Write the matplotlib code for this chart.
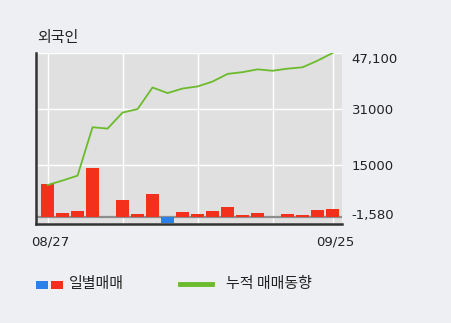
import matplotlib
matplotlib.use("Agg")
import matplotlib.pyplot as plt
import matplotlib.transforms as mtransforms
from matplotlib.patches import Rectangle
from matplotlib.lines import Line2D

plt.rcParams['font.family'] = ['Noto Sans CJK KR', 'DejaVu Sans']

# trading days 2019-08-27 .. 2019-09-25
dates = ['08/27', '08/28', '08/29', '08/30', '09/02', '09/03', '09/04', '09/05',
         '09/06', '09/09', '09/10', '09/11', '09/16', '09/17', '09/18', '09/19',
         '09/20', '09/23', '09/24', '09/25']
# daily net buying (bars)
daily = [9500, 1200, 1750, 14100, 0, 4900, 900, 6600, -1580, 1450,
         900, 1750, 2900, 600, 1200, 0, 900, 600, 2000, 2300]
# cumulative trend (line)
cumulative = [9200, 10500, 11900, 25800, 25400, 30000, 31000, 37200, 35600, 36900,
              37500, 38900, 41100, 41600, 42400, 42000, 42600, 43000, 44900, 47100]
ytick_vals = [47100, 31000, 15000, 0]
ytick_labels = ['47,100', '31000', '15000', '-1,580']

BG = '#eeeff3'
PLOT_BG = '#e0e0e0'
RED = '#f2301c'
BLUE = '#2b80ea'
GREEN = '#6cbb2c'

fig = plt.figure(figsize=(4.51, 3.23), dpi=100, facecolor=BG)
W, H = 451, 323
ax = fig.add_axes([36 / W, (H - 224) / H, (342 - 36) / W, (224 - 53) / H])
ax.set_facecolor(PLOT_BG)

x = list(range(len(dates)))
colors = [RED if v >= 0 else BLUE for v in daily]
ax.bar(x, daily, width=0.87, color=colors, zorder=3)
ax.axhline(0, color='#8e8e8e', lw=1.6, zorder=2)
ax.plot(x, cumulative, color=GREEN, lw=1.3, zorder=4)

ax.set_xlim(-0.77, len(dates) - 1 + 0.63)
ax.set_ylim(-1980, 47100)

# grid
grid_x = [0, 5, 10, 15, len(dates) - 1]
for gx in grid_x:
    ax.axvline(gx, color='white', lw=1, zorder=1)
for gy in ytick_vals[:3]:
    ax.axhline(gy, color='white', lw=1, zorder=1)

ax.set_xticks([0, len(dates) - 1])
ax.set_xticklabels([dates[0], dates[-1]])
ax.set_yticks(ytick_vals)
ax.set_yticklabels(ytick_labels)
ax.yaxis.tick_right()
ax.tick_params(axis='y', length=0, pad=7, labelsize=9.5, labelcolor='#222222')
ax.tick_params(axis='x', length=0, pad=8, labelsize=9.5, labelcolor='#222222')
for lab in ax.get_yticklabels():
    lab.set_fontfamily('DejaVu Sans')
for lab in ax.get_xticklabels():
    lab.set_fontfamily('DejaVu Sans')
    lab.set_transform(lab.get_transform() + mtransforms.ScaledTranslation(3 / 100, 0, fig.dpi_scale_trans))

# nudge the top and bottom labels like the original
ylabs = ax.get_yticklabels()
ylabs[0].set_transform(ylabs[0].get_transform() + mtransforms.ScaledTranslation(0, -5 / 100, fig.dpi_scale_trans))
ylabs[-1].set_transform(ylabs[-1].get_transform() + mtransforms.ScaledTranslation(0, 3 / 100, fig.dpi_scale_trans))

for side in ['top', 'right']:
    ax.spines[side].set_visible(False)
ax.spines['left'].set_color('#333333')
ax.spines['left'].set_linewidth(1.8)
ax.spines['bottom'].set_color('#333333')
ax.spines['bottom'].set_linewidth(1.8)

fig.text(37 / W, 1 - 38 / H, '외국인', fontsize=10.8, va='center', ha='left', color='#222222')

# legend
fig.patches.append(Rectangle((36 / W, 1 - 289 / H), 12 / W, 8.5 / H, transform=fig.transFigure,
                             facecolor=BLUE, edgecolor='none'))
fig.patches.append(Rectangle((51 / W, 1 - 289 / H), 12 / W, 8.5 / H, transform=fig.transFigure,
                             facecolor=RED, edgecolor='none'))
fig.text(69 / W, 1 - 284 / H, '일별매매', fontsize=10.8, va='center', ha='left', color='#222222')
fig.lines.append(Line2D([180 / W, 212 / W], [1 - 284 / H, 1 - 284 / H], transform=fig.transFigure,
                        color=GREEN, lw=3.5))
fig.text(226 / W, 1 - 284 / H, '누적 매매동향', fontsize=10.8, va='center', ha='left', color='#222222')

fig.savefig('out.png', dpi=100, facecolor=BG)
